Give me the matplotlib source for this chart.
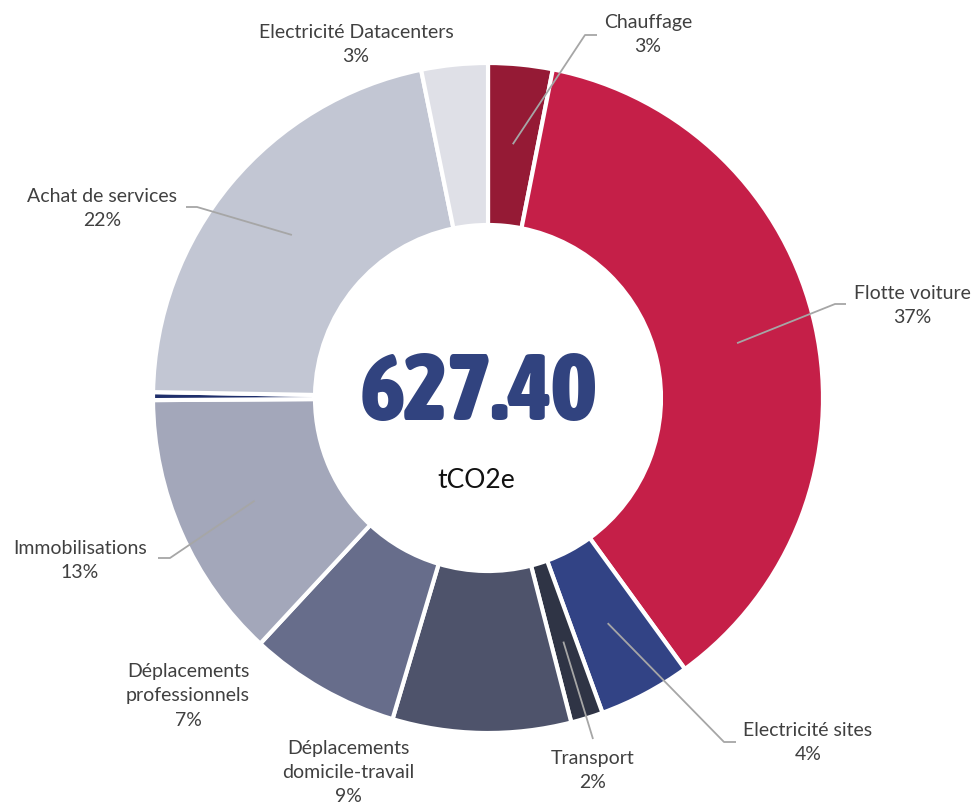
import numpy as np
import matplotlib
matplotlib.use("Agg")
import matplotlib.pyplot as plt
from matplotlib import font_manager
from matplotlib.font_manager import FontProperties

# ---- data ----
categories = ["Chauffage", "Flotte voiture", "Electricité sites", "Transport",
              "Déplacements\ndomicile-travail", "Déplacements\nprofessionnels",
              "Immobilisations", "", "Achat de services", "Electricité Datacenters"]
values = [3.1, 36.9, 4.45, 1.55, 8.6, 7.3, 13.0, 0.38, 21.52, 3.2]
pct_labels = ["3%", "37%", "4%", "2%", "9%", "7%", "13%", "", "22%", "3%"]
colors = ["#951A35", "#C51F48", "#324385", "#2F3445", "#4E536B", "#676D8B",
          "#A3A7BA", "#1F2F6B", "#C2C6D3", "#DFE0E7"]
total_text = "627.40"
unit_text = "tCO2e"

W, H = 973, 805
def Y(y):
    return H - y

fl = font_manager.fontManager.ttflist
names = {f.name for f in fl}
label_font = "Lato" if "Lato" in names else "DejaVu Sans"

def is_cond(f):
    s = f.stretch
    if isinstance(s, str):
        c = s in ("condensed", "semi-condensed", "extra-condensed", "ultra-condensed")
    else:
        c = s < 500
    return c or "Narrow" in f.name or "Condensed" in f.name or "Cond" in f.fname

def wnum(f):
    w = f.weight
    if isinstance(w, str):
        w = {"bold": 700, "heavy": 800, "black": 900, "extra bold": 800,
             "semibold": 600, "demibold": 600, "normal": 400, "regular": 400}.get(w, 400)
    return w

cands = [f for f in fl if is_cond(f) and f.style == "normal"]
if cands:
    cands.sort(key=lambda f: -min(wnum(f), 800))
    big_fp = FontProperties(fname=cands[0].fname)
else:
    big_fp = FontProperties(family="DejaVu Sans", weight="bold")

fig = plt.figure(figsize=(W / 100, H / 100), dpi=100)
ax = fig.add_axes([0, 0, 1, 1])

cx, cy, R, Rin = 488, 398, 335, 173
wedges, _ = ax.pie(values, colors=colors, startangle=90, counterclock=False,
                   radius=R, center=(cx, Y(cy)),
                   wedgeprops=dict(width=R - Rin, edgecolor="white", linewidth=3))
ax.set_xlim(0, W)
ax.set_ylim(0, H)
ax.set_aspect("equal")
ax.axis("off")

txt_color = "#404040"
label_pos = {0: (648, 35), 1: (912, 306), 2: (808, 742), 3: (593, 770),
             4: (348, 772), 5: (188, 696), 6: (80, 560), 8: (102, 208), 9: (356, 44)}
leaders = {0: [(585, 35), (597, 35)],
           1: [(835, 304), (846, 304)],
           2: [(724, 742), (736, 742)],
           3: [(593, 739)],
           6: [(170, 558), (158, 558)],
           8: [(197, 207), (186, 207)]}

for i, w in enumerate(wedges):
    if i not in label_pos:
        continue
    lx, ly = label_pos[i]
    ax.text(lx, Y(ly), categories[i] + "\n" + pct_labels[i], ha="center", va="center",
            fontsize=14, color=txt_color, family=label_font, linespacing=1.5)
    if i in leaders:
        mid = np.deg2rad((w.theta1 + w.theta2) / 2)
        ax_ = cx + 255 * np.cos(mid)
        ay_ = Y(cy) + 255 * np.sin(mid)
        xs = [ax_] + [p[0] for p in leaders[i]]
        ys = [ay_] + [Y(p[1]) for p in leaders[i]]
        ax.plot(xs, ys, color="#A6A6A6", lw=1.3, solid_capstyle="butt")

big = ax.text(479, Y(394), total_text, ha="center", va="center",
              fontproperties=big_fp, color="#31437F")
big.set_fontsize(64)
fig.canvas.draw()
bb = big.get_window_extent()
big.set_fontsize(64 * 236 / bb.width)

ax.text(476, Y(481), unit_text, ha="center", va="center", fontsize=19,
        family=label_font, color="#111111")

fig.savefig("out.png", dpi=100, facecolor="white")
